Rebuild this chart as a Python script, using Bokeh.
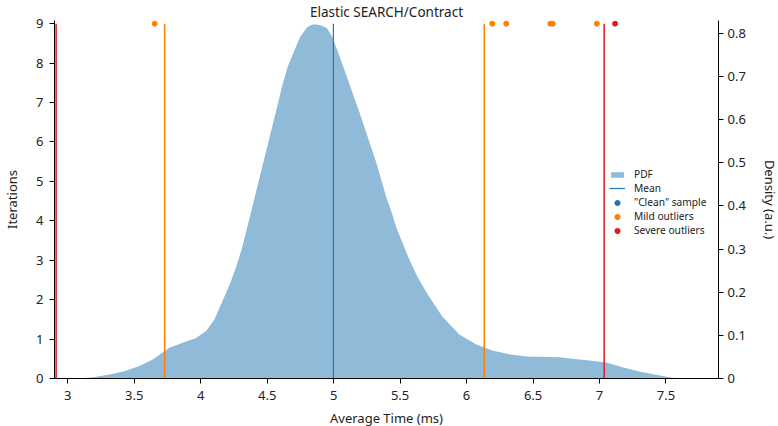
from bokeh.plotting import figure
from bokeh.models import (Range1d, LinearAxis, Legend, LegendItem, ColumnDataSource,
                          FixedTicker, CustomJSTickFormatter)
from bokeh.embed import file_html
from bokeh.resources import INLINE

# ---- data ----
title_text = "Elastic SEARCH/Contract"
time_ms = [3.088, 3.188, 3.314, 3.426, 3.539, 3.639, 3.714, 3.764, 3.865, 3.965,
           4.041, 4.103, 4.141, 4.193, 4.230, 4.268, 4.314, 4.389, 4.464, 4.537,
           4.586, 4.617, 4.654, 4.705, 4.747, 4.797, 4.826, 4.855, 4.900, 4.947,
           4.988, 5.023, 5.073, 5.118, 5.163, 5.194, 5.231, 5.321, 5.396, 5.441,
           5.471, 5.569, 5.630, 5.697, 5.817, 5.945, 6.073, 6.193, 6.321, 6.449,
           6.697, 6.795, 6.923, 7.051, 7.173, 7.299, 7.424, 7.547, 7.675]
density = [0.0, 0.003, 0.009, 0.017, 0.029, 0.044, 0.060, 0.071, 0.083, 0.094,
           0.110, 0.137, 0.164, 0.200, 0.228, 0.260, 0.306, 0.399, 0.492, 0.583,
           0.644, 0.683, 0.722, 0.761, 0.791, 0.813, 0.819, 0.821, 0.819, 0.813,
           0.793, 0.765, 0.722, 0.683, 0.644, 0.617, 0.583, 0.500, 0.420, 0.381,
           0.350, 0.276, 0.236, 0.200, 0.144, 0.102, 0.079, 0.065, 0.056, 0.051,
           0.049, 0.046, 0.042, 0.037, 0.026, 0.016, 0.0086, 0.002, 0.0]
mean_ms = [4.998]
mild_fences = [3.729, 6.133]
severe_fences = [2.912, 7.035]
clean_x, clean_y = [float("nan")], [float("nan")]
mild_x = [3.654, 6.193, 6.298, 6.630, 6.648, 6.980]
mild_y = [9, 9, 9, 9, 9, 9]
severe_x = [7.117]
severe_y = [9]
iter_max = 9
dens_ticks = [0, 0.1, 0.2, 0.3, 0.4, 0.5, 0.6, 0.7, 0.8]
x_ticks = [3, 3.5, 4, 4.5, 5, 5.5, 6, 6.5, 7, 7.5]
legend_labels = ["PDF", "Mean", '"Clean" sample', "Mild outliers", "Severe outliers"]

BLUE = "#1f78b4"
ORANGE = "#ff7f00"
RED = "#e31a1c"
FONT = "Noto Sans"
TXT = "#222222"

y_top = 9.08
p = figure(frame_width=664, frame_height=358,
           x_range=Range1d(2.9, 7.895), y_range=Range1d(0, y_top),
           output_backend="svg", toolbar_location=None,
           min_border_left=47, min_border_right=0, min_border_top=13, min_border_bottom=0)
p.extra_y_ranges = {"density": Range1d(0, 0.8226 * y_top / 9)}

p.title.text = title_text
p.title.align = "center"
p.title.text_font = FONT
p.title.text_font_size = "13.5px"
p.title.text_font_style = "normal"
p.title.text_color = TXT
p.title.standoff = 0

p.grid.visible = False
p.outline_line_color = None

src = ColumnDataSource(dict(x=time_ms, y=density))
pdf_r = p.varea(x="x", y1=0, y2="y", source=src, y_range_name="density",
                fill_color=BLUE, fill_alpha=0.5)

mean_r = p.segment(x0=mean_ms, y0=[0], x1=mean_ms, y1=[iter_max], line_color=BLUE, line_width=1.2)
p.segment(x0=mild_fences, y0=[0, 0], x1=mild_fences, y1=[iter_max, iter_max],
          line_color=ORANGE, line_width=1.5)
p.segment(x0=severe_fences, y0=[0, 0], x1=severe_fences, y1=[iter_max, iter_max],
          line_color=RED, line_width=1.5)

clean_r = p.scatter(x=clean_x, y=clean_y, size=5, color=BLUE)
mild_r = p.scatter(x=mild_x, y=mild_y, size=5, color=ORANGE)
severe_r = p.scatter(x=severe_x, y=severe_y, size=5, color=RED)

fmt = CustomJSTickFormatter(code="return String(Math.round(tick*10)/10);")

def style_axis(ax, label_standoff, tick_standoff):
    ax.axis_line_color = "black"
    ax.major_tick_line_color = "black"
    ax.minor_tick_line_color = None
    ax.major_tick_in = 0
    ax.major_tick_out = 5
    ax.major_label_text_font = FONT
    ax.major_label_text_font_size = "13px"
    ax.major_label_text_color = TXT
    ax.axis_label_text_font = FONT
    ax.axis_label_text_font_size = "13px"
    ax.axis_label_text_font_style = "normal"
    ax.axis_label_text_color = TXT
    ax.major_label_standoff = tick_standoff
    ax.axis_label_standoff = label_standoff
    ax.formatter = fmt

p.xaxis.axis_label = "Average Time (ms)"
p.xaxis.ticker = FixedTicker(ticks=x_ticks)
p.yaxis.axis_label = "Iterations"
p.yaxis.ticker = FixedTicker(ticks=list(range(0, 10)))
style_axis(p.xaxis[0], 6, 7)
style_axis(p.yaxis[0], 12, 6)

rax = LinearAxis(y_range_name="density", axis_label="Density (a.u.)",
                 ticker=FixedTicker(ticks=dens_ticks))
style_axis(rax, 12, 4)
p.add_layout(rax, "right")

# one small legend per row so that rows sit evenly apart as in the reference
legend_renderers = [pdf_r, mean_r, clean_r, mild_r, severe_r]
glyph_heights = [7, 8, 13, 13, 13]
for i, (lab, rend, gh) in enumerate(zip(legend_labels, legend_renderers, glyph_heights)):
    row_center = 204 - 14 * i
    lg = Legend(items=[LegendItem(label=lab, renderers=[rend])],
                location=(555, row_center - 7))
    lg.label_text_font = FONT
    lg.label_text_font_size = "10.2px"
    lg.label_text_color = TXT
    lg.background_fill_alpha = 0
    lg.border_line_alpha = 0
    lg.padding = 0
    lg.margin = 0
    lg.spacing = 0
    lg.glyph_width = 16
    lg.glyph_height = gh
    lg.label_height = 13
    lg.label_standoff = 9
    p.add_layout(lg)

open("out.html", "w").write(file_html(p, INLINE))
